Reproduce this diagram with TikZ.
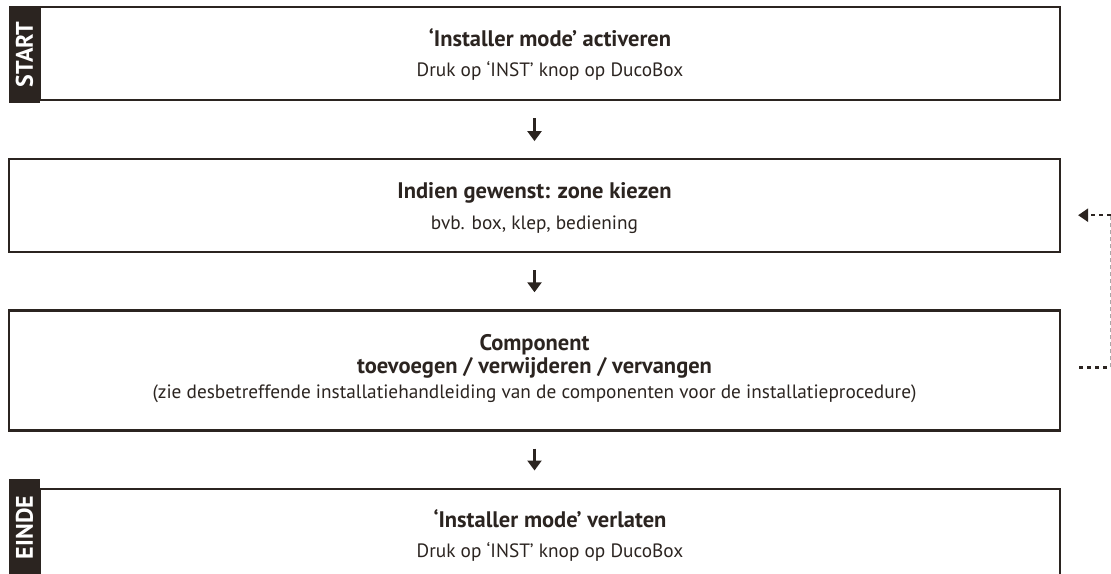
\documentclass[tikz,border=0pt]{standalone}
\usepackage{fontspec}
\setmainfont{PT Sans}
\usetikzlibrary{calc,positioning,arrows.meta}
\definecolor{ducoDark}{HTML}{2B2420}
\definecolor{ducoGrey}{HTML}{A8A8A8}

\begin{document}
\begin{tikzpicture}[x=1pt,y=-1pt,
    stepbox/.style={draw=ducoDark,line width=2.2pt,rectangle,minimum height=93pt,inner sep=0pt},
    tag/.style={fill=ducoDark,text=white,rotate=90,minimum width=97pt,minimum height=31pt,inner sep=0pt,font=\fontsize{24}{28}\selectfont\bfseries},
    title/.style={anchor=base,text=ducoDark,font=\fontsize{22.5}{26}\selectfont\bfseries},
    note/.style={anchor=base,text=ducoDark,font=\fontsize{19.3}{23}\selectfont},
    flow/.style={draw=ducoDark,line width=2.4pt,-{Triangle[width=14pt,length=10pt]}},
    loop/.style={draw=ducoDark,line width=2.4pt,dash pattern=on 4pt off 4pt},
    loopback/.style={draw=ducoGrey,line width=1.2pt,dash pattern=on 4pt off 3pt}
    ]
  \useasboundingbox (0,0) rectangle (1111,573);

  \node(activate) [stepbox,minimum width=1020pt] at (550,53.5) {};
  \node(activateTag) [tag] at (24.5,54.5) {START};
  \node(activateTitle) [title] at ($(activate.north)+(0,41)$) {‘Installer mode’ activeren};
  \node(activateNote) [note] at ($(activate.north)+(0,71)$) {Druk op ‘INST’ knop op DucoBox};

  \node(zone) [stepbox,minimum width=1051pt,below=57pt of activate,xshift=-15.5pt] {};
  \node(zoneTitle) [title] at ($(zone.north)+(0,40)$) {Indien gewenst: zone kiezen};
  \node(zoneNote) [note] at ($(zone.north)+(0,71)$) {bvb. box, klep, bediening};

  \node(component) [stepbox,minimum width=1051pt,minimum height=120pt,below=56pt of zone] {};
  \node(componentTitle) [title] at ($(component.north)+(0,41)$) {Component};
  \node(componentAction) [title] at ($(component.north)+(0,64)$) {toevoegen / verwijderen / vervangen};
  \node(componentNote) [note] at ($(component.north)+(0,89)$) {(zie desbetreffende installatiehandleiding van de componenten voor de installatieprocedure)};

  \node(leave) [stepbox,minimum width=1020pt,below=56pt of component,xshift=15.5pt] {};
  \node(leaveTag) [tag] at (24.5,527.5) {EINDE};
  \node(leaveTitle) [title] at ($(leave.north)+(0,40)$) {‘Installer mode’ verlaten};
  \node(leaveNote) [note] at ($(leave.north)+(0,70)$) {Druk op ‘INST’ knop op DucoBox};

  \draw[flow] ($(activate.south -| zone.north)+(0,17)$) -- ($(zone.north)+(0,-17)$);
  \draw[flow] ($(zone.south)+(0,17)$) -- ($(component.north)+(0,-17)$);
  \draw[flow] ($(component.south)+(0,17)$) -- ($(leave.north -| component.south)+(0,-17)$);

  \coordinate(loopStart) at ($(component.east)+(18,-3)$);
  \coordinate(loopLow) at ($(component.east)+(49.5,-3)$);
  \coordinate(loopHigh) at ($(zone.east)+(49.5,9.5)$);
  \coordinate(loopEnd) at ($(zone.east)+(17,9.5)$);

  \draw[loop] (loopStart) -- (loopLow);
  \draw[loopback] (loopLow) -- (loopHigh);
  \draw[loop,-{Triangle[width=13pt,length=10pt]}] (loopHigh) -- (loopEnd);

\end{tikzpicture}
\end{document}
